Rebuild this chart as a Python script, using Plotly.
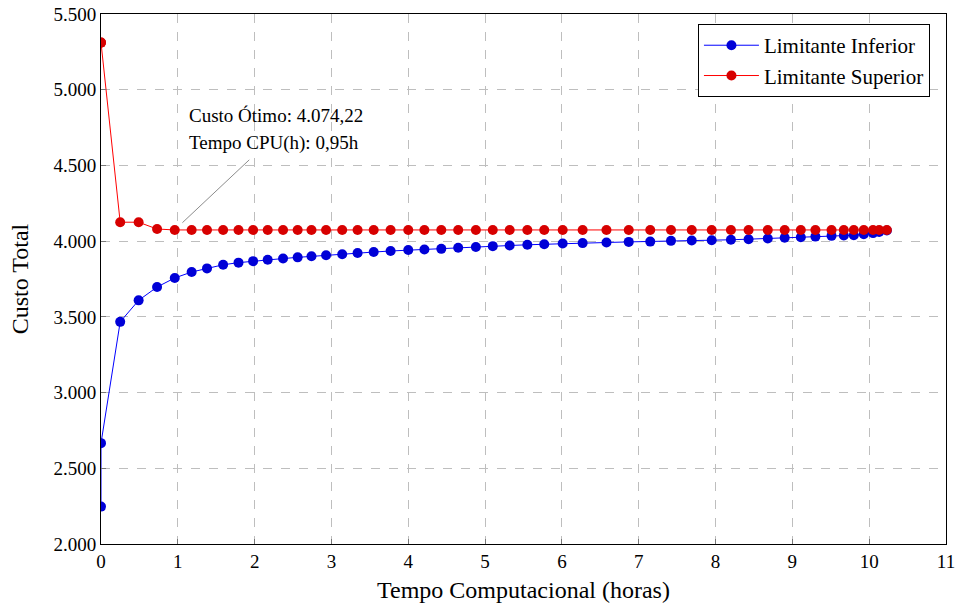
import plotly.graph_objects as go

tempo = [0, 0, 0.25, 0.49, 0.73, 0.96, 1.18, 1.38, 1.59, 1.79, 1.98, 2.17, 2.37, 2.56, 2.74, 2.93,
         3.14, 3.34, 3.55, 3.77, 4.0, 4.21, 4.43, 4.65, 4.88, 5.10, 5.32, 5.55, 5.77, 6.01, 6.27,
         6.58, 6.87, 7.15, 7.42, 7.69, 7.95, 8.20, 8.43, 8.68, 8.90, 9.11, 9.30, 9.51, 9.67, 9.80,
         9.93, 10.05, 10.13, 10.23]
lim_inferior = [2247, 2666, 3467, 3609, 3697, 3757, 3796, 3820, 3844, 3858, 3868, 3877, 3885, 3893,
                3900, 3907, 3914, 3922, 3928, 3935, 3941, 3945, 3949, 3956, 3961, 3967, 3971, 3976,
                3980, 3984, 3987, 3991, 3995, 3997, 4002, 4004, 4006, 4009, 4013, 4017, 4022, 4026,
                4030, 4035, 4037, 4039, 4046, 4053, 4061, 4070]
lim_superior = [5311, 5311, 4125, 4125, 4080, 4074, 4074, 4074, 4074, 4074, 4074, 4074, 4074, 4074,
                4074, 4074, 4074, 4074, 4074, 4074, 4074, 4074, 4074, 4074, 4074, 4074, 4074, 4074,
                4074, 4074, 4074, 4074, 4074, 4074, 4074, 4074, 4074, 4074, 4074, 4074, 4074, 4074,
                4074, 4074, 4074, 4074, 4074, 4074, 4074, 4074]
x_ticks = list(range(0, 12))
y_ticks = [2000, 2500, 3000, 3500, 4000, 4500, 5000, 5500]
anot_linhas = ["Custo Ótimo: 4.074,22", "Tempo CPU(h): 0,95h"]

FONT = "Liberation Serif"

fig = go.Figure()
fig.add_trace(go.Scatter(x=tempo, y=lim_inferior, mode="lines+markers", name="Limitante Inferior",
                         line=dict(color="rgb(0,0,255)", width=1),
                         marker=dict(color="rgb(0,0,215)", size=10, line=dict(width=0))))
fig.add_trace(go.Scatter(x=tempo, y=lim_superior, mode="lines+markers", name="Limitante Superior",
                         line=dict(color="rgb(255,0,0)", width=1),
                         marker=dict(color="rgb(215,0,0)", size=10, line=dict(width=0))))

fig.add_shape(type="line", x0=1.06, y0=4122, x1=1.93, y1=4537, xref="x", yref="y",
              line=dict(color="rgb(140,140,140)", width=1))
for txt, yv in zip(anot_linhas, [4831, 4649]):
    fig.add_annotation(x=1.12, y=yv, xref="x", yref="y", text=txt, showarrow=False,
                       xanchor="left", yanchor="middle", font=dict(family=FONT, size=19, color="black"))

axis_common = dict(showline=True, linecolor="black", linewidth=1, mirror=True,
                   showgrid=True, gridcolor="rgb(190,190,190)", griddash="dash", gridwidth=1,
                   ticks="inside", ticklen=5, tickcolor="rgb(120,120,120)", automargin=False,
                   tickfont=dict(family=FONT, size=19, color="black"), zeroline=False)

fig.update_layout(
    width=957, height=608,
    margin=dict(l=101, r=11, t=14, b=64),
    plot_bgcolor="white", paper_bgcolor="white",
    separators=",.",
    font=dict(family=FONT, color="black"),
    showlegend=True,
    legend=dict(x=0.981, y=0.981, xanchor="right", yanchor="top",
                bordercolor="black", borderwidth=1, bgcolor="white", itemwidth=55,
                font=dict(family=FONT, size=21, color="black"), tracegroupgap=0),
    xaxis=dict(range=[0, 11], tickvals=x_ticks,
               title=dict(text="Tempo Computacional (horas)", font=dict(family=FONT, size=24), standoff=10),
               **axis_common),
    yaxis=dict(range=[2000, 5500], tickvals=y_ticks, tickformat=",d",
               title=dict(text="Custo Total", font=dict(family=FONT, size=24), standoff=18),
               **axis_common),
)

fig.write_html("out.html", config={"displayModeBar": False},
               post_script="document.body.style.margin='0';document.body.style.overflow='hidden';")
